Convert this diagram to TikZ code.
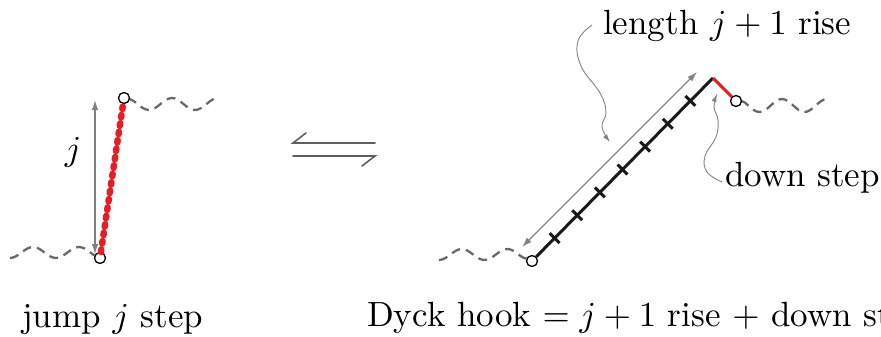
\documentclass[tikz,border=0pt]{standalone}
\usetikzlibrary{arrows.meta,calc}
\definecolor{hookred}{RGB}{232,28,36}
\definecolor{wavegray}{RGB}{105,105,105}
\definecolor{measgray}{RGB}{130,130,130}
\definecolor{harpgray}{RGB}{95,95,95}
\newcommand{\bigtxt}[1]{\scalebox{3.5}{#1}}
\begin{document}
\begin{tikzpicture}[x=1pt,y=-1pt,
  lbl/.style={inner sep=0pt, anchor=base west},
  dot/.style={circle, draw=black, fill=white, line width=1.3pt, minimum size=11pt, inner sep=0pt},
  wave/.style={draw=wavegray, line width=2.3pt, dash pattern=on 9pt off 6pt},
  measure/.style={draw=measgray, line width=1.2pt, {Latex[length=10pt,width=6.5pt]}-{Latex[length=10pt,width=6.5pt]}},
  pointer/.style={draw=measgray, line width=0.9pt, -{Latex[length=8pt,width=5pt]}},
  jumpline/.style={draw=hookred, line width=6.5pt, line cap=round, dash pattern=on 2.5pt off 6pt},
  riseline/.style={draw=black!90, line width=3pt},
  downline/.style={draw=hookred, line width=3pt},
  tickmark/.style={draw=black!90, line width=3pt},
  harp/.style={draw=harpgray, line width=1.6pt, line cap=round}]
\useasboundingbox (0,0) rectangle (881,337);

% ---------- left: jump step ----------
\draw[wave] (10,258) cos (21.5,252.5) sin (33,247) cos (44.5,252.5) sin (56,258)
  cos (67.5,252.5) sin (79,247) cos (90.5,252.5) sin (97,256);
\draw[wave] (128,99) cos (137.5,104) sin (149,110) cos (160.5,104) sin (172,98)
  cos (183.5,104) sin (195,110) cos (206.5,104) sin (218,98);
\node[dot] (a0) at (100,258) {};
\node[dot] (a1) at (124,98) {};
\draw[jumpline] (a0) -- (a1);
\coordinate (m0) at (95,254);
\coordinate (m1) at (95,100);
\draw[measure] (m0) -- (m1);
\node[inner sep=0pt] (jl) at (73,152) {\bigtxt{$j$}};

% ---------- middle: harpoons ----------
\draw[harp] (375,143) -- (293,143) -- (306,133);
\draw[harp] (293,156) -- (375,156) -- (362,166);

% ---------- right: Dyck hook ----------
\draw[wave] (439,260) cos (450.4,254.5) sin (461.8,249) cos (473.1,254.5) sin (484.5,260)
  cos (495.9,254.5) sin (507.3,249) cos (518.6,254.5) sin (528,259);
\draw[wave] (741,101) cos (748.25,105.5) sin (759.5,112) cos (770.75,105.5) sin (782,99)
  cos (793.25,105.5) sin (804.5,112) cos (815.75,105.5) sin (827,99);
\node[dot] (b0) at (532,261) {};
\coordinate (top) at (713,78);
\node[dot] (b1) at (736,101) {};
\draw[riseline] (b0) -- (top);
\draw[downline] (top) -- (b1);
\foreach \k in {1,...,7}{
  \draw[tickmark] ($(b0.center)!\k/8!(top)!7pt!90:(top)$) -- ($(b0.center)!\k/8!(top)!7pt!-90:(top)$);
}
\coordinate (r0) at (522,247);
\coordinate (r1) at (697,72);
\draw[measure] (r0) -- (r1);

% labels
\node[lbl] (rise) at (603,35) {\bigtxt{length $j+1$ rise}};
\node[lbl] (down) at (725,186) {\bigtxt{down step}};
\draw[pointer] plot[smooth, tension=0.7] coordinates {(592,25) (578,41) (581,66) (600,93) (606,112) (602,127) (610,142)};
\draw[pointer] plot[smooth, tension=0.7] coordinates {(722,182) (707,172) (705,156) (716,137) (718,120) (714,107) (717,94)};

\node[lbl] (cap1) at (22,327) {\bigtxt{jump $j$ step}};
\node[lbl] (cap2) at (367,326) {\bigtxt{Dyck hook $=j+1$ rise $+$ down step}};
\end{tikzpicture}
\end{document}
